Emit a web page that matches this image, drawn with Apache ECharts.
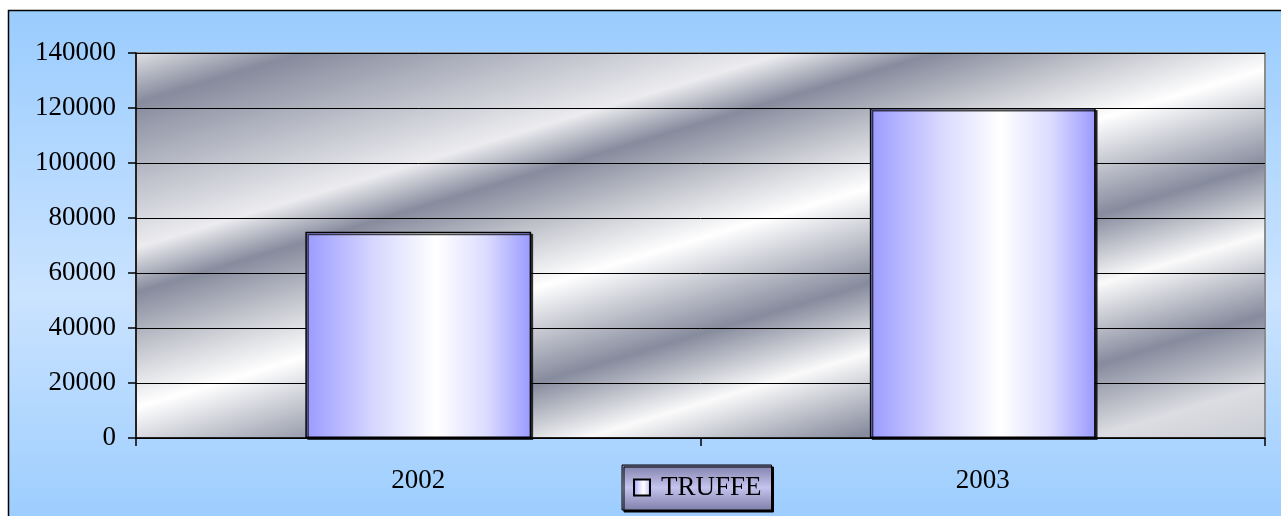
<!DOCTYPE html>
<html>
<head>
<meta charset="utf-8">
<script src="https://cdn.jsdelivr.net/npm/echarts@6/dist/echarts.min.js"></script>
<style>
html,body{margin:0;padding:0;background:#fff;}
#c{width:1281px;height:516px;}
</style>
</head>
<body>
<div id="c"></div>
<script>
const categories = ['2002', '2003'];
const seriesName = 'TRUFFE';
const truffeValues = [75000, 120000];
const yMin = 0, yMax = 140000, yInterval = 20000;

const chart = echarts.init(document.getElementById('c'));

const barGrad = new echarts.graphic.LinearGradient(0, 0, 1, 0, [
  {offset: 0, color: '#9a9aff'},
  {offset: 0.3, color: '#d6d6ff'},
  {offset: 0.58, color: '#ffffff'},
  {offset: 0.8, color: '#dcdcff'},
  {offset: 1, color: '#9a9aff'}
]);

const plotGrad = {
  type: 'linear', global: true,
  x: 136, y: 53, x2: 335, y2: 717,
  colorStops: [
    {offset: 0, color: '#dfe0e4'},
    {offset: 0.069, color: '#868b9d'},
    {offset: 0.166, color: '#b8bbc6'},
    {offset: 0.269, color: '#ececef'},
    {offset: 0.331, color: '#868b9d'},
    {offset: 0.414, color: '#c8cad1'},
    {offset: 0.49, color: '#ffffff'},
    {offset: 0.622, color: '#868b9d'},
    {offset: 0.718, color: '#fafafa'},
    {offset: 0.829, color: '#868b9d'},
    {offset: 0.927, color: '#dcdde2'},
    {offset: 1, color: '#cacdd4'}
  ]
};

const font = 'Liberation Serif, Times New Roman, serif';

chart.setOption({
  animation: false,
  graphic: [{
    type: 'rect', z: -100, silent: true,
    shape: {x: 8.5, y: 10.5, width: 1300, height: 520},
    style: {
      fill: new echarts.graphic.LinearGradient(0, 0, 0, 1, [
        {offset: 0, color: '#9accfe'},
        {offset: 0.55, color: '#cae3ff'},
        {offset: 1, color: '#9accfe'}
      ]),
      stroke: '#000', lineWidth: 1.5
    }
  }],
  grid: {
    left: 136, top: 53, right: 16, bottom: 78,
    show: true,
    backgroundColor: plotGrad,
    borderColor: '#8c8c8c', borderWidth: 2
  },
  legend: {
    left: 622, top: 465,
    padding: [9, 10, 9, 11],
    itemWidth: 16, itemHeight: 16,
    backgroundColor: new echarts.graphic.LinearGradient(0, 0, 0, 1, [
      {offset: 0, color: '#7e7eaa'},
      {offset: 0.5, color: '#c4c4ee'},
      {offset: 1, color: '#7e7eaa'}
    ]),
    borderColor: '#000', borderWidth: 1,
    shadowColor: '#000', shadowOffsetX: 2, shadowOffsetY: 2, shadowBlur: 0,
    textStyle: {fontFamily: font, fontSize: 27, color: '#000', padding: [0, 0, 0, 6]},
    data: [{name: seriesName, icon: 'rect', itemStyle: {color: barGrad, borderColor: '#000', borderWidth: 2}}]
  },
  xAxis: {
    type: 'category',
    data: categories,
    axisLine: {lineStyle: {color: '#000', width: 1.5}},
    axisTick: {show: true, length: 8, lineStyle: {color: '#000', width: 1.5}},
    axisLabel: {fontFamily: font, fontSize: 27, color: '#000', margin: 29},
    splitLine: {show: false}
  },
  yAxis: {
    type: 'value',
    min: yMin, max: yMax, interval: yInterval,
    axisLine: {show: true, lineStyle: {color: '#000', width: 1.5}},
    axisTick: {show: true, length: 8, lineStyle: {color: '#000', width: 1.5}},
    axisLabel: {fontFamily: font, fontSize: 27, color: '#000', margin: 20, formatter: v => String(v)},
    splitLine: {show: true, lineStyle: {color: '#000', width: 1}}
  },
  series: [{
    name: seriesName,
    type: 'bar',
    data: truffeValues,
    barWidth: '40%',
    itemStyle: {
      color: barGrad,
      borderColor: '#000', borderWidth: 1.5,
      shadowColor: 'rgba(0,0,0,0.7)', shadowOffsetX: 2, shadowOffsetY: 2, shadowBlur: 0
    }
  }]
});
</script>
</body>
</html>
